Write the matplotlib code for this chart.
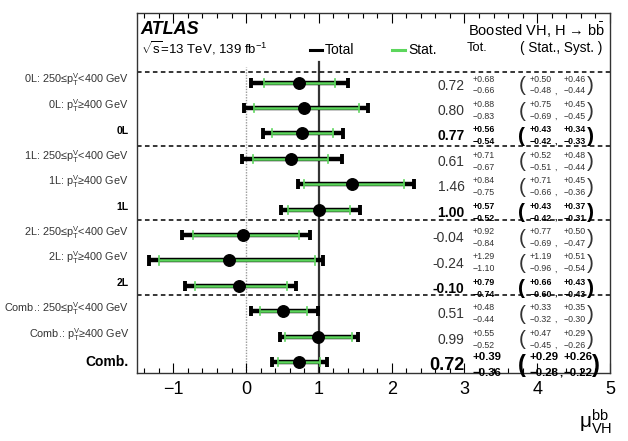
import matplotlib
matplotlib.use("Agg")
import matplotlib.pyplot as plt
import matplotlib.transforms as mtransforms
from matplotlib.ticker import MultipleLocator

plt.rcParams['font.family'] = ['Liberation Sans', 'DejaVu Sans']
plt.rcParams['mathtext.fontset'] = 'custom'
plt.rcParams['mathtext.rm'] = 'Liberation Sans'
plt.rcParams['mathtext.it'] = 'Liberation Sans:italic'
plt.rcParams['mathtext.bf'] = 'Liberation Sans:bold'
plt.rcParams['mathtext.default'] = 'regular'

# ---------------- data ----------------
labels = [
    "0L: 250≤p$_T^V$<400 GeV", "0L: p$_T^V$≥400 GeV", "0L",
    "1L: 250≤p$_T^V$<400 GeV", "1L: p$_T^V$≥400 GeV", "1L",
    "2L: 250≤p$_T^V$<400 GeV", "2L: p$_T^V$≥400 GeV", "2L",
    "Comb.: 250≤p$_T^V$<400 GeV", "Comb.: p$_T^V$≥400 GeV", "Comb.",
]
kind = ["reg", "reg", "bold", "reg", "reg", "bold",
        "reg", "reg", "bold", "reg", "reg", "comb"]
mu = [0.72, 0.80, 0.77, 0.61, 1.46, 1.00, -0.04, -0.24, -0.10, 0.51, 0.99, 0.72]
tot_up = [0.68, 0.88, 0.56, 0.71, 0.84, 0.57, 0.92, 1.29, 0.79, 0.48, 0.55, 0.39]
tot_dn = [0.66, 0.83, 0.54, 0.67, 0.75, 0.52, 0.84, 1.10, 0.74, 0.44, 0.52, 0.36]
stat_up = [0.50, 0.75, 0.43, 0.52, 0.71, 0.43, 0.77, 1.19, 0.66, 0.33, 0.47, 0.29]
stat_dn = [0.48, 0.69, 0.42, 0.51, 0.66, 0.42, 0.69, 0.96, 0.60, 0.32, 0.45, 0.28]
syst_up = [0.46, 0.45, 0.34, 0.48, 0.45, 0.37, 0.50, 0.51, 0.43, 0.35, 0.29, 0.26]
syst_dn = [0.44, 0.45, 0.33, 0.44, 0.36, 0.31, 0.47, 0.54, 0.43, 0.30, 0.26, 0.22]
xticks = [-1, 0, 1, 2, 3, 4, 5]

# ---------------- figure ----------------
fig = plt.figure(figsize=(6.28, 4.41), dpi=100)
ax = fig.add_axes([137/628, 1-373/441, 473/628, 360/441])
ax.set_xlim(-1.5, 5)
ax.set_ylim(-0.43, 13.74)

n = len(mu)
ys = [n - 1 - i for i in range(n)]

green = '#5cd65c'
ax.axvline(1, ymin=0, ymax=(11.8+0.43)/14.17, color='#333333', lw=1.6, zorder=1)
ax.axvline(0, ymin=0, ymax=(11.6+0.43)/14.17, color='#999999', lw=1.0,
           ls=(0, (1, 1)), zorder=1)
for yd in [11.42, 8.5, 5.58, 2.64]:
    ax.axhline(yd, color='black', lw=1.1, ls=(0, (3, 2.2)), zorder=1)

for i in range(n):
    y = ys[i]
    lo, hi = mu[i] - tot_dn[i], mu[i] + tot_up[i]
    slo, shi = mu[i] - stat_dn[i], mu[i] + stat_up[i]
    ax.plot([lo, hi], [y, y], color='black', lw=3.2, zorder=2, solid_capstyle='butt')
    for xe in (lo, hi):
        ax.plot([xe, xe], [y - 0.2, y + 0.2], color='black', lw=2.8, zorder=2,
                solid_capstyle='butt')
    ax.plot([slo, shi], [y, y], color=green, lw=1.8, zorder=3, solid_capstyle='butt')
    for xe in (slo, shi):
        ax.plot([xe, xe], [y - 0.16, y + 0.16], color=green, lw=1.2, zorder=3)
    ax.plot(mu[i], y, 'o', color='black', ms=8.3, zorder=4)

    # table
    k = kind[i]
    if k == "reg":
        fs_v, fs_e, fw, fs_p = 10, 6.3, 'normal', 15
        col = '#333333'
    elif k == "bold":
        fs_v, fs_e, fw, fs_p = 10, 6.3, 'bold', 15
        col = 'black'
    else:
        fs_v, fs_e, fw, fs_p = 13, 8.2, 'bold', 17
        col = 'black'
    ax.text(3.0, y - 0.12, f"{mu[i]:.2f}", ha='right', va='center',
            fontsize=fs_v, fontweight=fw, color=col)
    up_off, dn_off = (0.14, -0.33) if k != "comb" else (0.2, -0.42)
    ax.text(3.11, y + up_off, f"+{tot_up[i]:.2f}", ha='left', va='center',
            fontsize=fs_e, fontweight=fw, color=col)
    ax.text(3.11, y + dn_off, f"−{tot_dn[i]:.2f}", ha='left', va='center',
            fontsize=fs_e, fontweight=fw, color=col)
    ax.text(3.79, y - 0.12, "(", ha='center', va='center', fontsize=fs_p,
            color=col, fontweight='normal' if k == "reg" else 'bold')
    ax.text(3.89, y + up_off, f"+{stat_up[i]:.2f}", ha='left', va='center',
            fontsize=fs_e, fontweight=fw, color=col)
    ax.text(3.89, y + dn_off, f"−{stat_dn[i]:.2f}", ha='left', va='center',
            fontsize=fs_e, fontweight=fw, color=col)
    ax.text(4.23 if k != "comb" else 4.3, y + dn_off, ",", ha='left', va='center',
            fontsize=fs_e, fontweight=fw, color=col)
    ax.text(4.36, y + up_off, f"+{syst_up[i]:.2f}", ha='left', va='center',
            fontsize=fs_e, fontweight=fw, color=col)
    ax.text(4.36, y + dn_off, f"−{syst_dn[i]:.2f}", ha='left', va='center',
            fontsize=fs_e, fontweight=fw, color=col)
    ax.text(4.73 if k != "comb" else 4.8, y - 0.12, ")", ha='center', va='center',
            fontsize=fs_p, color=col, fontweight='normal' if k == "reg" else 'bold')

# y labels
trans = mtransforms.blended_transform_factory(ax.transAxes, ax.transData)
for i in range(n):
    k = kind[i]
    if k == "reg":
        ax.text(-0.017, ys[i] + 0.1, labels[i], transform=trans, ha='right',
                va='center', fontsize=7.8, color='#333333')
    elif k == "bold":
        ax.text(-0.017, ys[i] + 0.1, labels[i], transform=trans, ha='right',
                va='center', fontsize=7.5, fontweight='bold')
    else:
        ax.text(-0.017, ys[i], labels[i], transform=trans, ha='right',
                va='center', fontsize=10, fontweight='bold')

# header
ax.text(0.008, 0.953, "ATLAS", transform=ax.transAxes, fontsize=13,
        fontweight='bold', fontstyle='italic', va='center', ha='left')
ax.text(0.008, 0.903, r"$\sqrt{s}$=13 TeV, 139 fb$^{-1}$", transform=ax.transAxes,
        fontsize=9.5, va='center', ha='left')
ax.text(0.989, 0.953, r"Boosted VH, H → b$\bar{b}$", transform=ax.transAxes,
        fontsize=10.5, va='center', ha='right')
ax.plot([0.366, 0.391], [0.898, 0.898], transform=ax.transAxes, color='black', lw=2.2)
ax.text(0.397, 0.898, "Total", transform=ax.transAxes, fontsize=10, va='center', ha='left')
ax.plot([0.539, 0.567], [0.898, 0.898], transform=ax.transAxes, color=green, lw=2.2)
ax.text(0.573, 0.898, "Stat.", transform=ax.transAxes, fontsize=10, va='center', ha='left')
ax.text(0.698, 0.903, "Tot.", transform=ax.transAxes, fontsize=9.3, va='center', ha='left')
ax.text(0.983, 0.903, "( Stat., Syst. )", transform=ax.transAxes, fontsize=9.8,
        va='center', ha='right')

# axes styling
ax.set_xticks(xticks)
ax.set_xticklabels([str(t).replace('-', '−') for t in xticks], fontsize=13)
ax.xaxis.set_minor_locator(MultipleLocator(0.2))
ax.tick_params(axis='x', which='both', direction='in', top=True, bottom=True, pad=6)
ax.tick_params(axis='x', which='major', length=7, width=0.8)
ax.tick_params(axis='x', which='minor', length=3.5, width=0.8)
ax.set_yticks([])
for sp in ax.spines.values():
    sp.set_linewidth(1.0)
    sp.set_color('#333333')

fig.text(0.975, 0.045, r"$\mu^{bb}_{VH}$", fontsize=15, ha='right', va='center')

fig.savefig("out.png", dpi=100)
